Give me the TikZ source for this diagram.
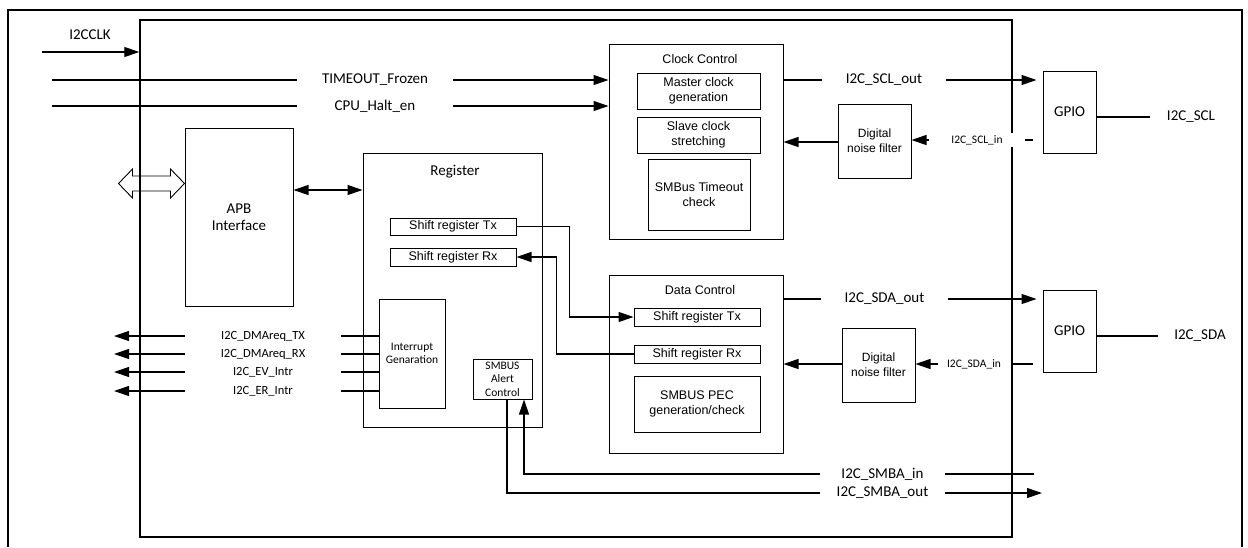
\documentclass[tikz,border=0pt]{standalone}
\usepackage{fontspec}
\usetikzlibrary{arrows.meta}
\newfontfamily\calfont{Carlito}
\newfontfamily\arifont{Liberation Sans}
\tikzset{
  sig/.style={line width=1.1pt},
  arr/.style={sig,-{Triangle[length=15pt,width=10pt]}},
  darr/.style={sig,{Triangle[length=15pt,width=10pt]}-{Triangle[length=15pt,width=10pt]}},
  box/.style={draw,line width=1pt,inner sep=0pt,align=center},
  big/.style={font=\calfont\fontsize{15}{17}\selectfont},
  mid/.style={font=\calfont\fontsize{12.5}{14}\selectfont},
  sml/.style={font=\calfont\fontsize{11.5}{13.5}\selectfont},
  ar/.style={font=\arifont\fontsize{12.5}{15}\selectfont},
  arn/.style={font=\arifont\fontsize{12}{15}\selectfont},
  lbl/.style={fill=white,inner sep=0pt,minimum height=14pt},
}
\begin{document}
\begin{tikzpicture}[x=1pt,y=-1pt]
\useasboundingbox (0,0) rectangle (1248,547);
% outer frame
\draw[line width=2pt] (8,547) -- (8,10) -- (1242,10) -- (1242,547);
% main block
\node[box,line width=1.5pt,minimum width=872pt,minimum height=517pt] (main) at (576,278.5) {};

% clock control
\node[box,minimum width=174pt,minimum height=195pt] (clk) at (696,141.5) {};
\node[ar] (clkt) at (700,59) {Clock Control};
\node[box,ar,minimum width=123pt,minimum height=36pt] (mcg) at (698.5,91) {Master clock\\generation};
\node[box,ar,minimum width=123pt,minimum height=36pt] (scs) at (698.5,135) {Slave clock\\stretching};
\node[box,ar,minimum width=102pt,minimum height=71pt] (smbto) at (699,194.5) {SMBus Timeout\\check};

% data control
\node[box,minimum width=174pt,minimum height=178pt] (dat) at (696,364) {};
\node[ar] (datt) at (700,290) {Data Control};
\node[box,ar,minimum width=126pt,minimum height=18pt] (dtx) at (697,317) {Shift register Tx};
\node[box,ar,minimum width=126pt,minimum height=18pt] (drx) at (697,354) {Shift register Rx};
\node[box,ar,minimum width=126pt,minimum height=56pt] (pec) at (697,404) {SMBUS PEC\\generation/check};

% filters and GPIO
\node[box,arn,minimum width=73pt,minimum height=74pt] (dnf1) at (874.5,141) {Digital\\noise filter};
\node[box,arn,minimum width=73pt,minimum height=74pt] (dnf2) at (878.5,365) {Digital\\noise filter};
\node[box,big,minimum width=53pt,minimum height=82pt] (gpio1) at (1069.5,112) {GPIO};
\node[box,big,minimum width=53pt,minimum height=82pt] (gpio2) at (1069.5,331) {GPIO};

% APB and register
\node[box,big,minimum width=108pt,minimum height=178pt] (apb) at (239,217) {APB\\Interface};
\node[box,minimum width=179pt,minimum height=274pt] (reg) at (452.5,290) {};
\node[big] (regt) at (455,172) {Register};
\node[box,ar,minimum width=126pt,minimum height=17pt] (rtx) at (453,226.5) {Shift register Tx};
\node[box,ar,minimum width=126pt,minimum height=18pt] (rrx) at (453,257) {Shift register Rx};
\node[box,sml,minimum width=66pt,minimum height=109pt] (intg) at (412,353.5) {Interrupt\\Genaration};
\node[box,sml,minimum width=59pt,minimum height=40pt] (alert) at (502.5,379) {SMBUS\\Alert\\Control};

% I2CCLK
\coordinate (clkin) at (42,52);
\draw[arr] (clkin) -- (clkin -| main.west);
\node[big] (clkl) at (90,35) {I2CCLK};

% TIMEOUT / CPU_Halt
\coordinate (tin) at (52,80);
\coordinate (cin) at (52,106);
\draw[arr] (tin) -- (tin -| clk.west);
\draw[arr] (cin) -- (cin -| clk.west);
\node[lbl,big,minimum width=156pt] (tl) at (375,80) {TIMEOUT\_Frozen};
\node[lbl,big,minimum width=156pt] (cl) at (375,106) {CPU\_Halt\_en};

% APB hollow double arrow
\draw[line width=0.9pt] (apb.west |- 0,183.5) -- ++(-14,-14.5) -- ++(0,7) -- ++(-38,0) -- ++(0,-7) -- ++(-14,14.5)
  -- ++(14,14.5) -- ++(0,-7) -- ++(38,0) -- ++(0,7) -- cycle;
\draw[darr] (apb.east |- 0,190) -- (reg.west |- 0,190);

% shift register links
\draw[arr] (rtx.east) -- ++(53,0) |- (dtx.west);
\draw[arr] (drx.west) -- ++(-77,0) |- (rrx.east);

% SCL / SDA outputs
\draw[arr,shorten >=6pt] (clk.east |- 0,80) -- (gpio1.west |- 0,80);
\node[lbl,big,minimum width=124pt] (sclo) at (884,80) {I2C\_SCL\_out};
\draw[arr,shorten >=6pt] (dat.east |- 0,299) -- (gpio2.west |- 0,299);
\node[lbl,big,minimum width=127pt] (sdao) at (884.5,299) {I2C\_SDA\_out};

% SCL / SDA inputs
\coordinate (sclin) at (1033,140);
\draw[arr] (sclin) -- (sclin -| dnf1.east);
\node[lbl,sml,minimum width=96pt] (scli) at (977,140) {I2C\_SCL\_in};
\draw[arr] (dnf1.west |- 0,142) -- (clk.east |- 0,142);
\coordinate (sdain) at (1033,364);
\draw[arr] (sdain) -- (sdain -| dnf2.east);
\node[lbl,sml,minimum width=73pt] (sdai) at (974,364) {I2C\_SDA\_in};
\draw[arr] (dnf2.west |- 0,364) -- (dat.east |- 0,364);

% pins
\coordinate (sclpin) at (1150,117);
\draw[sig] (gpio1.east |- sclpin) -- (sclpin);
\node[big] (scll) at (1191,117) {I2C\_SCL};
\coordinate (sdapin) at (1158,336);
\draw[sig] (gpio2.east |- sdapin) -- (sdapin);
\node[big] (sdal) at (1200,336) {I2C\_SDA};

% interrupt / DMA outputs
\foreach \y/\t/\n in {336/I2C\_DMAreq\_TX/o1,354/I2C\_DMAreq\_RX/o2,372/I2C\_EV\_Intr/o3,391/I2C\_ER\_Intr/o4}{
  \coordinate (\n) at (114,\y);
  \draw[arr] (intg.west |- \n) -- (\n);
  \node[lbl,mid,minimum width=156pt] (\n l) at (263,\y) {\t};
}

% SMBA
\coordinate (smbain) at (1034,474);
\draw[arr] (smbain) -| ([xshift=21.5pt]alert.south);
\node[lbl,big,minimum width=125pt] (smbail) at (882.5,474) {I2C\_SMBA\_in};
\coordinate (smbaout) at (1042,493);
\draw[arr] ([xshift=4.5pt]alert.south) |- (smbaout);
\node[lbl,big,minimum width=125pt] (smbaol) at (882.5,493) {I2C\_SMBA\_out};
\end{tikzpicture}
\end{document}
